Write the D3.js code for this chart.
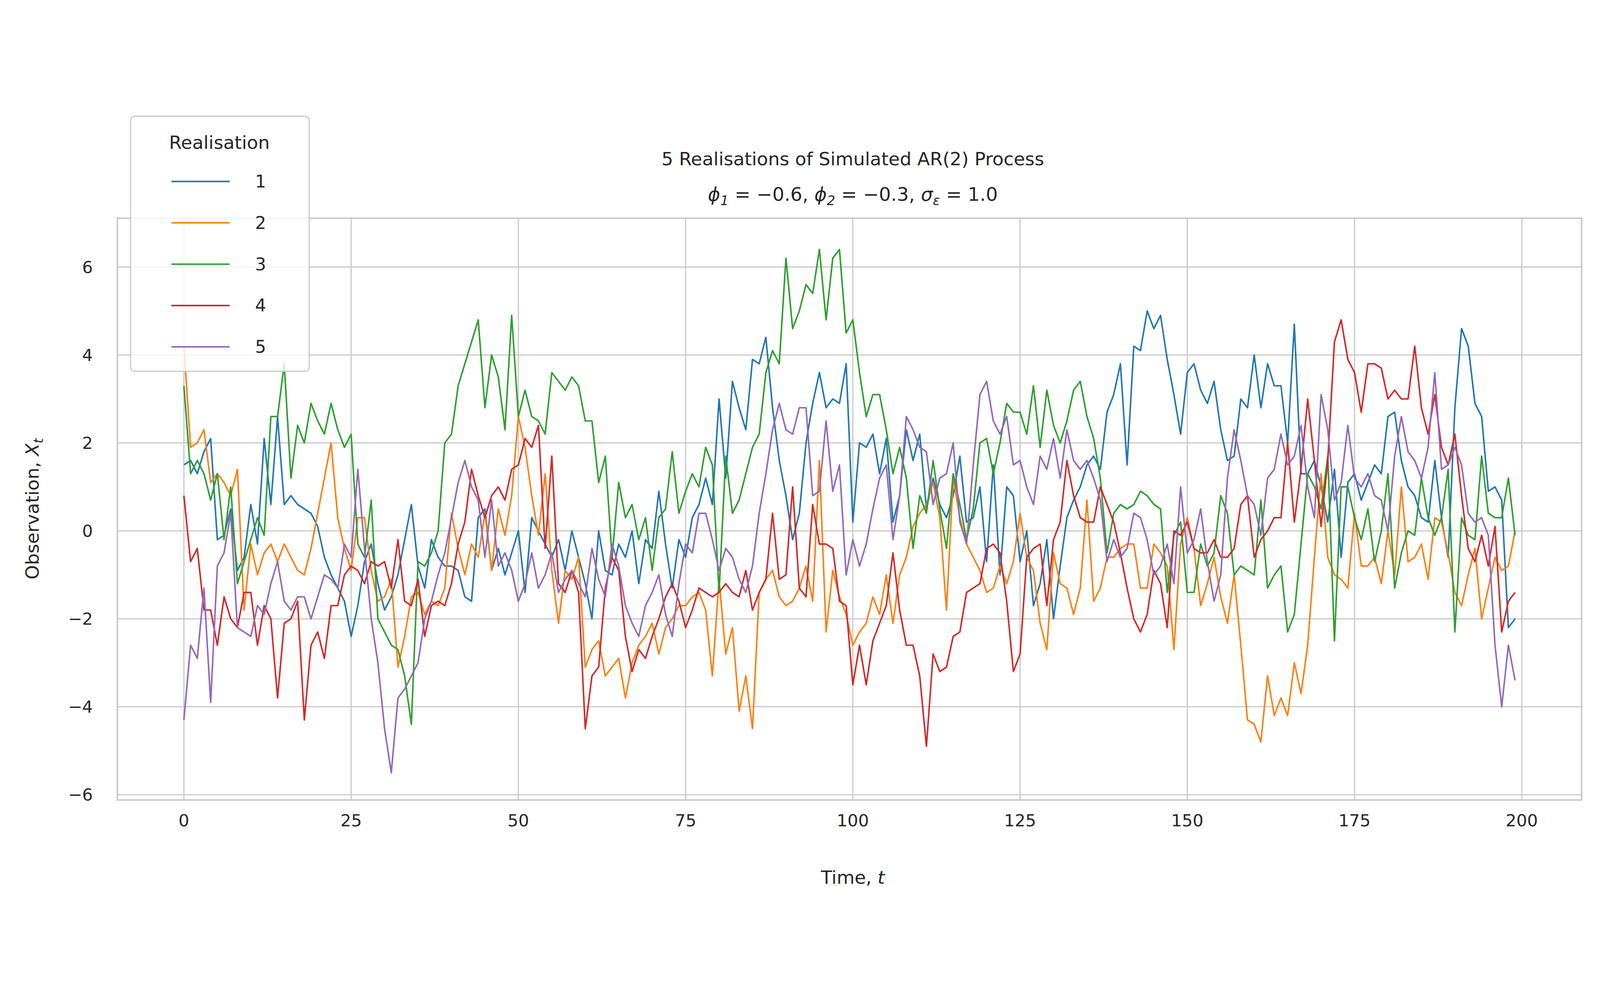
<!DOCTYPE html>
<html>
<head>
<meta charset="utf-8">
<script src="https://d3js.org/d3.v7.min.js"></script>
<style>
  html, body { margin: 0; padding: 0; background: #fff; overflow: hidden; }
  svg { display: block; width: 100vw; height: 100vh; font-family: "DejaVu Sans", sans-serif; }
</style>
</head>
<body>
<svg viewBox="0 0 1568 796" preserveAspectRatio="xMidYMid meet"></svg>
<script>
// data
const realisations = ["1", "2", "3", "4", "5"];
const colours = ["#1f77b4", "#ff7f0e", "#2ca02c", "#d62728", "#9467bd"];
const xTicks = [0, 25, 50, 75, 100, 125, 150, 175, 200];
const yTicks = [-6, -4, -2, 0, 2, 4, 6];

const series1 = [1.5,1.6,1.3,1.8,2.1,-0.2,-0.1,0.5,-0.9,-0.6, 0.6,-0.3,2.1,0.6,2.6,0.6,0.8,0.6,0.5,0.4,
  0.1,-0.6,-1.0,-1.3,-1.6,-2.4,-1.7,-0.7,-0.3,-1.2, -1.8,-1.5,-1.0,-0.2,0.6,-0.8,-1.3,-0.2,-0.6,-0.8,
  -0.8,-0.9,-1.5,-1.6,0.3,0.5,-0.9,-0.4,-1.0,-0.5, 0.0,-1.4,0.3,0.0,-0.3,-0.6,-0.2,-0.9,0.0,-0.6,
  -1.2,-2.0,0.0,-0.9,-1.0,-0.3,-0.6,0.0,-1.2,-0.2, -0.4,0.9,-0.3,-1.3,-0.2,-0.6,0.3,0.6,1.2,0.6,
  3.0,1.2,3.4,2.8,2.3,3.9,3.8,4.4,2.8,1.6, 0.8,-0.2,0.4,2.0,2.9,3.6,2.8,3.0,2.9,3.8,
  0.2,2.0,1.9,2.2,1.3,2.1,0.2,0.8,2.3,1.6, 2.2,0.5,1.2,0.6,0.3,0.8,1.7,0.2,0.3,1.0,
  -0.7,1.5,-1.0,1.0,0.8,-0.7,0.0,-1.7,-1.2,-0.2, -2.0,-0.8,0.3,0.7,1.0,1.5,1.7,1.4,2.7,3.1,
  3.8,1.5,4.2,4.1,5.0,4.6,4.9,3.9,3.1,2.2, 3.6,3.8,3.2,2.9,3.4,2.3,1.6,1.7,3.0,2.8,
  4.0,2.8,3.8,3.3,3.3,2.0,4.7,1.3,1.3,1.6, 1.0,0.2,1.4,-0.6,1.1,1.3,0.7,1.1,1.5,1.3,
  2.6,2.7,1.6,1.0,0.8,0.3,0.2,1.6,0.3,-0.6, 2.8,4.6,4.2,2.9,2.6,0.9,1.0,0.7,-2.2,-2.0];
const series2 = [4.2,1.9,2.0,2.3,1.1,1.3,1.1,0.8,1.4,-1.8, -0.3,-1.0,-0.5,-0.3,-0.7,-0.3,-0.6,-0.9,-1.0,-0.4,
  0.4,1.2,2.0,0.3,-0.4,-0.9,0.3,0.3,-0.9,-1.6, -1.5,-1.1,-3.1,-2.4,-1.5,-1.4,-1.9,-1.6,-1.7,-1.3,
  0.4,-0.4,-1.0,-0.3,-0.6,0.4,-0.9,0.5,-0.1,0.8, 2.6,1.9,0.8,-0.1,1.3,-0.9,-2.1,-0.9,-1.1,-0.6,
  -3.1,-2.7,-2.5,-3.3,-3.1,-2.9,-3.8,-3.0,-2.6,-2.4, -2.1,-2.8,-2.2,-2.0,-1.7,-1.7,-1.5,-1.4,-1.8,-3.3,
  -1.1,-2.8,-2.2,-4.1,-3.3,-4.5,-1.4,-1.1,-0.9,-1.5, -1.7,-1.6,-1.3,-0.8,-1.6,1.6,-2.3,-0.9,-1.5,-1.9,
  -2.6,-2.3,-2.1,-1.5,-1.9,-1.0,-2.1,-1.0,-0.6,0.1, 0.4,0.6,1.1,0.3,-1.8,1.2,0.3,-0.3,-0.6,-0.9,
  -1.4,-1.3,-0.8,-1.2,-0.7,0.4,-0.6,-0.9,-2.1,-2.7, -0.5,-1.2,-1.3,-1.9,-1.3,0.7,-1.6,-1.3,-0.6,-0.6,
  -0.4,-0.3,-0.3,-1.3,-1.3,-0.3,-0.5,-0.8,-2.7,-0.3, 0.3,-0.4,-1.7,-1.2,-0.6,-1.5,-2.1,-1.0,-2.6,-4.3,
  -4.4,-4.8,-3.3,-4.2,-3.8,-4.2,-3.0,-3.7,-2.6,-0.6, 1.3,-0.6,-1.0,-1.1,-1.3,0.4,-0.8,-0.8,-0.6,-1.2,
  0.0,-1.0,1.0,-0.7,-0.6,-0.3,-1.1,0.3,0.2,-0.5, -1.4,-1.7,-1.0,-0.4,-2.0,-1.3,-0.6,-0.9,-0.8,0.0];
const series3 = [3.3,1.3,1.6,1.3,0.7,1.3,-0.2,1.0,-1.2,-0.7, -0.2,0.3,-0.1,2.6,2.6,3.8,1.2,2.4,2.0,2.9,
  2.5,2.2,2.9,2.3,1.9,2.2,-0.3,-0.6,0.7,-2.0, -2.3,-2.6,-2.7,-3.3,-4.4,-0.7,-0.8,-0.5,0.0,2.0,
  2.2,3.3,3.8,4.3,4.8,2.8,4.0,3.5,2.3,4.9, 2.6,3.2,2.6,2.5,2.2,3.6,3.4,3.2,3.5,3.3,
  2.5,2.5,1.1,1.7,-0.6,1.1,0.3,0.6,-0.2,0.3, -0.9,0.3,0.5,1.8,0.4,0.9,1.3,1.0,1.9,1.5,
  -1.4,1.7,0.4,0.7,1.3,1.9,2.2,3.6,4.1,3.8, 6.2,4.6,5.0,5.6,5.4,6.4,4.8,6.2,6.4,4.5,
  4.8,3.6,2.6,3.1,3.1,2.3,1.3,1.9,1.2,-0.4, 0.8,0.4,1.6,0.5,-0.4,1.3,0.6,-0.2,0.5,2.0,
  2.1,1.3,2.0,2.9,2.7,2.7,2.2,3.3,1.9,3.2, 2.4,2.0,2.5,3.2,3.4,2.6,2.1,1.2,-0.5,0.4,
  0.6,0.5,0.6,0.9,0.8,0.6,0.5,-1.4,-0.1,0.2, -1.4,-1.4,-0.3,-0.8,-0.5,0.8,0.4,-1.0,-0.8,-0.9,
  -1.0,0.7,-1.3,-1.0,-0.8,-2.3,-1.9,-0.3,1.3,1.0, 0.5,1.7,-2.5,1.0,1.0,0.3,-0.2,0.5,-0.7,0.0,
  1.3,-1.3,-0.5,0.0,-0.1,1.2,0.3,-0.1,0.3,1.4, -2.3,0.3,-0.1,-0.2,1.7,0.4,0.3,0.3,1.2,-0.1];
const series4 = [0.8,-0.7,-0.4,-1.8,-1.8,-2.6,-1.5,-2.0,-2.2,-1.4, -1.4,-2.6,-1.7,-2.0,-3.8,-2.1,-2.0,-1.6,-4.3,-2.6,
  -2.3,-2.9,-1.7,-1.7,-1.0,-0.8,-0.9,-1.2,-0.7,-0.8, -0.7,-1.3,-0.2,-1.6,-1.7,-1.1,-2.4,-1.7,-1.6,-1.7,
  -1.2,-0.3,0.2,1.4,0.8,0.3,0.8,1.0,0.7,1.4, 1.5,2.1,1.9,2.4,-0.4,1.7,-1.2,-1.4,-0.9,-1.4,
  -4.5,-3.3,-3.1,-1.3,-0.6,-0.9,-2.4,-3.2,-2.7,-2.9, -2.4,-2.0,-1.5,-1.2,-1.6,-2.2,-1.8,-1.3,-1.4,-1.5,
  -1.4,-1.2,-1.4,-1.5,-0.9,-1.8,-1.4,-1.1,0.4,-1.1, -1.0,1.0,-1.3,-1.5,0.6,-0.3,-0.3,-0.4,-1.6,-1.7,
  -3.5,-2.6,-3.5,-2.5,-2.1,-1.7,-0.5,-1.8,-2.6,-2.6, -3.3,-4.9,-2.8,-3.2,-3.1,-2.4,-2.3,-1.4,-1.3,-1.2,
  -0.4,-0.3,-0.5,-1.6,-3.2,-2.8,-0.6,-0.4,-0.3,-1.7, -0.2,0.2,1.6,0.8,0.3,0.2,0.2,1.0,0.6,0.2,
  -0.5,-1.3,-2.0,-2.3,-1.9,-0.9,-1.2,-2.2,0.0,-0.1, 0.2,-0.4,-0.5,-0.5,-0.2,-0.6,-0.6,-0.4,0.6,0.8,
  -0.6,-0.2,0.0,0.3,0.3,2.0,0.2,1.4,3.0,1.6, 0.1,1.6,4.3,4.8,3.9,3.6,2.7,3.8,3.8,3.7,
  3.0,3.2,3.0,3.0,4.2,2.8,2.2,3.1,1.9,1.5, 2.2,0.8,-0.4,-0.7,-0.1,-0.8,0.1,-2.3,-1.6,-1.4];
const series5 = [-4.3,-2.6,-2.9,-1.3,-3.9,-0.8,-0.5,0.4,-2.2,-2.3, -2.4,-1.7,-1.9,-1.2,-0.7,-1.6,-1.8,-1.5,-1.5,-2.0,
  -1.5,-1.0,-1.1,-1.3,-0.3,-0.6,1.4,-0.4,-2.0,-3.0, -4.5,-5.5,-3.8,-3.6,-3.3,-3.0,-2.0,-1.6,-1.0,-0.5,
  0.3,1.1,1.6,1.0,0.7,-0.6,0.7,-0.8,-0.5,-0.9, -1.6,-1.2,-0.5,-1.3,-1.0,-0.5,-1.4,-1.1,-0.9,-1.2,
  -1.5,-0.4,-1.1,-1.5,-0.3,-0.8,-1.7,-2.1,-2.4,-1.7, -1.4,-1.0,-1.9,-2.4,-1.2,-0.3,-0.5,0.4,0.4,-0.2,
  -0.9,-0.4,-0.6,-1.1,-1.4,-0.8,0.4,1.3,2.3,2.9, 2.3,2.2,2.8,2.8,0.8,0.9,2.5,0.9,1.5,-1.0,
  -0.2,-0.8,-0.3,0.5,1.2,1.5,-0.2,0.8,2.6,2.3, 1.9,1.8,0.6,1.2,1.3,2.0,0.2,-0.3,1.5,3.1,
  3.4,2.5,2.2,2.6,1.5,1.6,1.0,0.6,1.7,1.4, 2.1,1.2,2.3,1.6,1.4,1.6,1.2,0.7,-0.7,-0.2,
  -0.6,-0.4,0.4,0.3,-0.2,-1.0,-0.8,-0.3,-1.2,1.0, -0.5,-0.2,0.5,-0.7,-1.6,-1.0,1.2,2.3,1.6,0.8,
  0.6,-0.1,1.2,1.4,2.2,1.5,1.7,2.4,1.0,0.3, 3.1,2.3,0.7,1.1,2.4,1.2,1.0,1.3,0.8,0.7,
  0.0,1.7,2.6,1.8,1.6,1.2,1.9,3.6,1.4,1.5, 1.9,1.5,0.4,0.2,0.3,-0.1,-2.6,-4.0,-2.6,-3.4];
const allSeries = [series1, series2, series3, series4, series5];

// drawn in the reference's 1568x796 frame, scaled up by the viewBox
const m = { left: 115, right: 1550, top: 118, bottom: 688 };
const svg = d3.select("svg");

const x = d3.scaleLinear().domain([-9.95, 208.95]).range([m.left, m.right]);
const y = d3.scaleLinear().domain([-6.12, 7.11]).range([m.bottom, m.top]);

const grid = "#cccccc";
const txt = "#262626";
const tickFont = 16.5;

// grid
svg.append("g").selectAll("line").data(xTicks).join("line")
  .attr("x1", d => x(d)).attr("x2", d => x(d)).attr("y1", m.top).attr("y2", m.bottom)
  .attr("stroke", grid).attr("stroke-width", 1.25);
svg.append("g").selectAll("line").data(yTicks).join("line")
  .attr("y1", d => y(d)).attr("y2", d => y(d)).attr("x1", m.left).attr("x2", m.right)
  .attr("stroke", grid).attr("stroke-width", 1.25);

// series
const line = d3.line().x((d, i) => x(i)).y(d => y(d));
allSeries.forEach((s, i) => {
  svg.append("path").datum(s).attr("d", line)
    .attr("fill", "none").attr("stroke", colours[i])
    .attr("stroke-width", 1.5).attr("stroke-linejoin", "round");
});

// frame
svg.append("rect").attr("x", m.left).attr("y", m.top)
  .attr("width", m.right - m.left).attr("height", m.bottom - m.top)
  .attr("fill", "none").attr("stroke", grid).attr("stroke-width", 1.6);

// tick labels
svg.append("g").selectAll("text").data(xTicks).join("text")
  .attr("x", d => x(d)).attr("y", m.bottom + 26)
  .attr("text-anchor", "middle").attr("font-size", tickFont).attr("fill", txt)
  .text(d => d);
svg.append("g").selectAll("text").data(yTicks).join("text")
  .attr("x", m.left - 24).attr("y", d => y(d)).attr("dy", "0.35em")
  .attr("text-anchor", "end").attr("font-size", tickFont).attr("fill", txt)
  .text(d => d < 0 ? "\u2212" + Math.abs(d) : d);

// axis labels
const xl = svg.append("text").attr("x", x(100)).attr("y", 770)
  .attr("text-anchor", "middle").attr("font-size", 18).attr("fill", txt);
xl.append("tspan").text("Time, ");
xl.append("tspan").attr("font-style", "italic").text("t");

const yl = svg.append("text")
  .attr("transform", `translate(38,${y(0.5)}) rotate(-90)`)
  .attr("text-anchor", "middle").attr("font-size", 18).attr("fill", txt);
yl.append("tspan").text("Observation, ");
yl.append("tspan").attr("font-style", "italic").text("X");
yl.append("tspan").attr("font-style", "italic").attr("font-size", 13).attr("dy", 4).text("t");

// title
svg.append("text").attr("x", x(100)).attr("y", 66).attr("text-anchor", "middle")
  .attr("font-size", 18).attr("fill", txt).text("5 Realisations of Simulated AR(2) Process");
const t2 = svg.append("text").attr("x", x(100)).attr("y", 101).attr("text-anchor", "middle")
  .attr("font-size", 18.5).attr("fill", txt);
const sub = (base, s, after) => {
  t2.append("tspan").attr("font-style", "italic").text(base);
  t2.append("tspan").attr("font-size", 13).attr("dy", 4).attr("font-style", "italic").text(s);
  t2.append("tspan").attr("dy", -4).text(after);
};
sub("\u03D5", "1", " = \u22120.6, ");
sub("\u03D5", "2", " = \u22120.3, ");
sub("\u03C3", "\u03B5", " = 1.0");

// legend
const lg = svg.append("g");
lg.append("rect").attr("x", 128).attr("y", 18).attr("width", 175).attr("height", 250)
  .attr("rx", 4).attr("fill", "#fff").attr("fill-opacity", 0.8)
  .attr("stroke", grid).attr("stroke-width", 1.2);
lg.append("text").attr("x", 215).attr("y", 50).attr("text-anchor", "middle")
  .attr("font-size", 18).attr("fill", txt).text("Realisation");
realisations.forEach((r, i) => {
  const yy = 82 + i * 40.5;
  lg.append("line").attr("x1", 168).attr("x2", 225).attr("y1", yy).attr("y2", yy)
    .attr("stroke", colours[i]).attr("stroke-width", 1.5);
  lg.append("text").attr("x", 250).attr("y", yy).attr("dy", "0.35em")
    .attr("font-size", 17).attr("fill", txt).text(r);
});
</script>
</body>
</html>
